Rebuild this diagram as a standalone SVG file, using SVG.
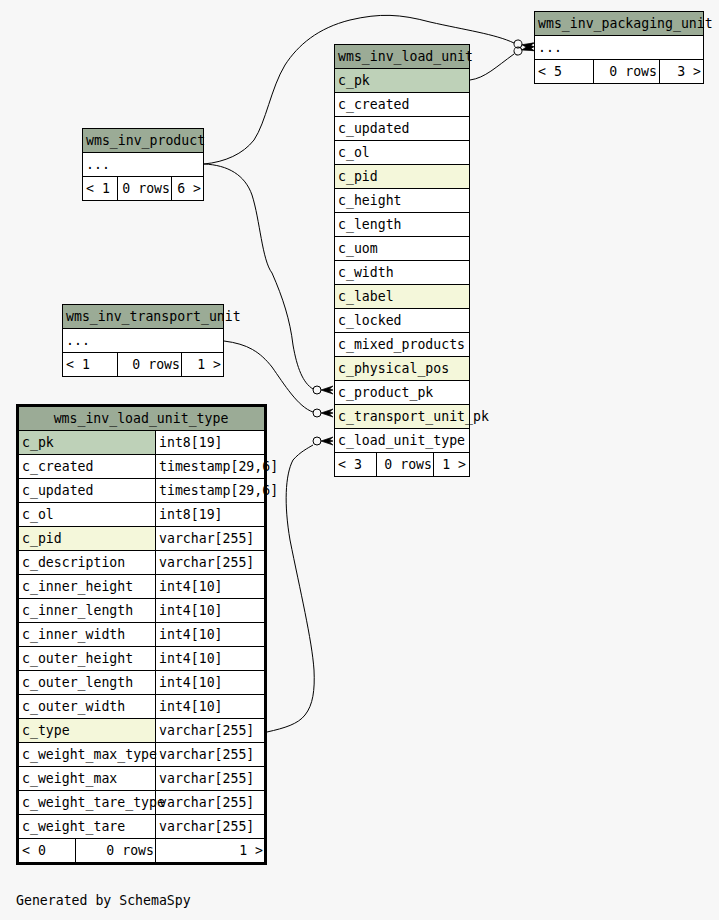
<svg xmlns="http://www.w3.org/2000/svg" xmlns:xlink="http://www.w3.org/1999/xlink" width="719" height="920" viewBox="0 0 719 920">
<style>
text{font-family:"DejaVu Sans Mono","Liberation Mono",monospace;font-size:13.2px;fill:#000}
.h{fill:#9bab96}
.pk{fill:#bed1b8}
.ix{fill:#f4f7da}
.w{fill:#ffffff}
.c{stroke:#000;stroke-width:1}
.r{text-anchor:end}
.m{text-anchor:middle}
.e{fill:none;stroke:#000;stroke-width:1}
</style>
<defs>
<g id="crow">
<circle cx="0" cy="0" r="4" fill="none" stroke="#000" stroke-width="1"/>
<polygon points="4,0 16,-4 12.5,-1 16,0 12.5,1 16,4" fill="#000" stroke="#000" stroke-width="0.7"/>
</g>
</defs>
<rect x="0" y="0" width="719" height="920" fill="#f7f7f7"/>

<g id="wms_inv_packaging_unit">
<rect class="h c" x="534.5" y="11.5" width="169" height="24"/>
<rect class="w c" x="534.5" y="35.5" width="169" height="24"/>
<rect class="w c" x="534.5" y="59.5" width="59" height="24"/>
<rect class="w c" x="593.5" y="59.5" width="66" height="24"/>
<rect class="w c" x="659.5" y="59.5" width="44" height="24"/>
<text x="538" y="28">wms_inv_packaging_unit</text>
<text x="538" y="52">...</text>
<text x="538" y="76">&lt; 5</text>
<text class="r" x="657" y="76">0 rows</text>
<text class="r" x="701" y="76">3 &gt;</text>
</g>

<g id="wms_inv_product">
<rect class="h c" x="82.5" y="128.5" width="121" height="24"/>
<rect class="w c" x="82.5" y="152.5" width="121" height="24"/>
<rect class="w c" x="82.5" y="176.5" width="35" height="24"/>
<rect class="w c" x="117.5" y="176.5" width="54" height="24"/>
<rect class="w c" x="171.5" y="176.5" width="32" height="24"/>
<text x="86" y="145">wms_inv_product</text>
<text x="86" y="169">...</text>
<text x="86" y="193">&lt; 1</text>
<text class="r" x="170" y="193">0 rows</text>
<text class="r" x="201" y="193">6 &gt;</text>
</g>

<g id="wms_inv_transport_unit">
<rect class="h c" x="62.5" y="304.5" width="161" height="24"/>
<rect class="w c" x="62.5" y="328.5" width="161" height="24"/>
<rect class="w c" x="62.5" y="352.5" width="55" height="24"/>
<rect class="w c" x="117.5" y="352.5" width="64" height="24"/>
<rect class="w c" x="181.5" y="352.5" width="42" height="24"/>
<text x="66" y="321">wms_inv_transport_unit</text>
<text x="66" y="345">...</text>
<text x="66" y="369">&lt; 1</text>
<text class="r" x="180" y="369">0 rows</text>
<text class="r" x="221" y="369">1 &gt;</text>
</g>

<g id="wms_inv_load_unit">
<rect class="h c" x="334.5" y="44.5" width="135" height="24"/>
<rect class="pk c" x="334.5" y="68.5" width="135" height="24"/>
<rect class="w c" x="334.5" y="92.5" width="135" height="24"/>
<rect class="w c" x="334.5" y="116.5" width="135" height="24"/>
<rect class="w c" x="334.5" y="140.5" width="135" height="24"/>
<rect class="ix c" x="334.5" y="164.5" width="135" height="24"/>
<rect class="w c" x="334.5" y="188.5" width="135" height="24"/>
<rect class="w c" x="334.5" y="212.5" width="135" height="24"/>
<rect class="w c" x="334.5" y="236.5" width="135" height="24"/>
<rect class="w c" x="334.5" y="260.5" width="135" height="24"/>
<rect class="ix c" x="334.5" y="284.5" width="135" height="24"/>
<rect class="w c" x="334.5" y="308.5" width="135" height="24"/>
<rect class="w c" x="334.5" y="332.5" width="135" height="24"/>
<rect class="ix c" x="334.5" y="356.5" width="135" height="24"/>
<rect class="w c" x="334.5" y="380.5" width="135" height="24"/>
<rect class="ix c" x="334.5" y="404.5" width="135" height="24"/>
<rect class="w c" x="334.5" y="428.5" width="135" height="24"/>
<rect class="w c" x="334.5" y="452.5" width="42" height="24"/>
<rect class="w c" x="376.5" y="452.5" width="57" height="24"/>
<rect class="w c" x="433.5" y="452.5" width="36" height="24"/>
<text x="338" y="61">wms_inv_load_unit</text>
<text x="338" y="85">c_pk</text>
<text x="338" y="109">c_created</text>
<text x="338" y="133">c_updated</text>
<text x="338" y="157">c_ol</text>
<text x="338" y="181">c_pid</text>
<text x="338" y="205">c_height</text>
<text x="338" y="229">c_length</text>
<text x="338" y="253">c_uom</text>
<text x="338" y="277">c_width</text>
<text x="338" y="301">c_label</text>
<text x="338" y="325">c_locked</text>
<text x="338" y="349">c_mixed_products</text>
<text x="338" y="373">c_physical_pos</text>
<text x="338" y="397">c_product_pk</text>
<text x="338" y="421">c_transport_unit_pk</text>
<text x="338" y="445">c_load_unit_type</text>
<text x="338" y="469">&lt; 3</text>
<text class="r" x="432" y="469">0 rows</text>
<text class="r" x="466" y="469">1 &gt;</text>
</g>

<g id="wms_inv_load_unit_type">
<rect class="h" x="18" y="406" width="247" height="24"/>
<rect class="pk" x="18" y="430" width="137" height="24"/>
<rect class="w" x="155" y="430" width="110" height="24"/>
<rect class="w" x="18" y="454" width="247" height="96"/>
<rect class="ix" x="18" y="526" width="137" height="24"/>
<rect class="w" x="18" y="550" width="247" height="312"/>
<rect class="ix" x="18" y="718" width="137" height="24"/>
<g class="c">
<line x1="18" y1="430.5" x2="265" y2="430.5"/>
<line x1="18" y1="454.5" x2="265" y2="454.5"/>
<line x1="18" y1="478.5" x2="265" y2="478.5"/>
<line x1="18" y1="502.5" x2="265" y2="502.5"/>
<line x1="18" y1="526.5" x2="265" y2="526.5"/>
<line x1="18" y1="550.5" x2="265" y2="550.5"/>
<line x1="18" y1="574.5" x2="265" y2="574.5"/>
<line x1="18" y1="598.5" x2="265" y2="598.5"/>
<line x1="18" y1="622.5" x2="265" y2="622.5"/>
<line x1="18" y1="646.5" x2="265" y2="646.5"/>
<line x1="18" y1="670.5" x2="265" y2="670.5"/>
<line x1="18" y1="694.5" x2="265" y2="694.5"/>
<line x1="18" y1="718.5" x2="265" y2="718.5"/>
<line x1="18" y1="742.5" x2="265" y2="742.5"/>
<line x1="18" y1="766.5" x2="265" y2="766.5"/>
<line x1="18" y1="790.5" x2="265" y2="790.5"/>
<line x1="18" y1="814.5" x2="265" y2="814.5"/>
<line x1="18" y1="838.5" x2="265" y2="838.5"/>
<line x1="155.5" y1="430" x2="155.5" y2="862"/>
<line x1="75.5" y1="838" x2="75.5" y2="862"/>
</g>
<text class="m" x="141" y="423">wms_inv_load_unit_type</text>
<text x="22" y="447">c_pk</text><text x="159" y="447">int8[19]</text>
<text x="22" y="471">c_created</text><text x="159" y="471">timestamp[29,6]</text>
<text x="22" y="495">c_updated</text><text x="159" y="495">timestamp[29,6]</text>
<text x="22" y="519">c_ol</text><text x="159" y="519">int8[19]</text>
<text x="22" y="543">c_pid</text><text x="159" y="543">varchar[255]</text>
<text x="22" y="567">c_description</text><text x="159" y="567">varchar[255]</text>
<text x="22" y="591">c_inner_height</text><text x="159" y="591">int4[10]</text>
<text x="22" y="615">c_inner_length</text><text x="159" y="615">int4[10]</text>
<text x="22" y="639">c_inner_width</text><text x="159" y="639">int4[10]</text>
<text x="22" y="663">c_outer_height</text><text x="159" y="663">int4[10]</text>
<text x="22" y="687">c_outer_length</text><text x="159" y="687">int4[10]</text>
<text x="22" y="711">c_outer_width</text><text x="159" y="711">int4[10]</text>
<text x="22" y="735">c_type</text><text x="159" y="735">varchar[255]</text>
<text x="22" y="759">c_weight_max_type</text><text x="159" y="759">varchar[255]</text>
<text x="22" y="783">c_weight_max</text><text x="159" y="783">varchar[255]</text>
<text x="22" y="807">c_weight_tare_type</text><text x="159" y="807">varchar[255]</text>
<text x="22" y="831">c_weight_tare</text><text x="159" y="831">varchar[255]</text>
<text x="22" y="855">&lt; 0</text>
<text class="r" x="154" y="855">0 rows</text>
<text class="r" x="263" y="855">1 &gt;</text>
<rect x="17.5" y="405.5" width="248" height="458" fill="none" stroke="#000" stroke-width="3"/>
</g>

<g id="connectors">
<path class="e" d="M204,164 C225,162 243,154 254,140 C266,122 271,88 285,65 C298,45 318,28 350,20 C380,13 400,14 430,22 C465,30 495,34 514,43"/>
<path class="e" d="M470,80 C485,78 496,67 514,54"/>
<path class="e" d="M204,164 C228,165 245,175 252,195 C260,220 262,260 272,273 C283,298 290,320 293,345 C297,368 303,383 313,389"/>
<path class="e" d="M224,341 C248,344 260,352 272,367 C284,384 298,407 313,412"/>
<path class="e" d="M267,732 C285,728 298,724 305,715 C313,705 315,690 314,670 C312,640 300,590 290,540 C284,505 285,475 293,460 C300,452 308,448 313,445"/>
<use xlink:href="#crow" transform="translate(518,44) rotate(10)"/>
<use xlink:href="#crow" transform="translate(518,51) rotate(-15)"/>
<use xlink:href="#crow" transform="translate(317,390)"/>
<use xlink:href="#crow" transform="translate(317,413)"/>
<use xlink:href="#crow" transform="translate(317,441)"/>
</g>

<text x="16" y="905">Generated by SchemaSpy</text>
</svg>
